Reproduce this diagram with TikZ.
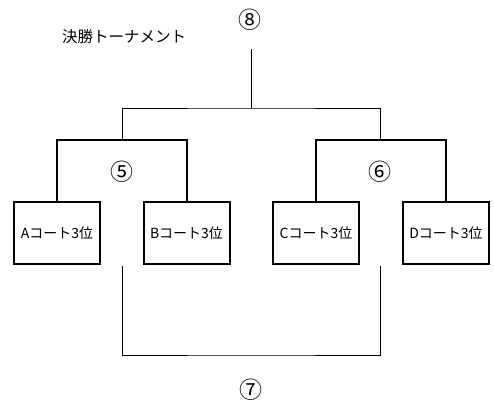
\documentclass[tikz,border=0pt]{standalone}
\usepackage{fontspec}
\setmainfont{Noto Sans CJK JP}
\begin{document}
\begin{tikzpicture}[x=1pt,y=-1pt,
  team/.style={draw=black,line width=2pt,minimum width=86pt,minimum height=62pt,inner sep=0pt,font=\fontsize{14}{15}\selectfont},
  num/.style={inner sep=0pt,font=\fontsize{23}{24}\selectfont},
  thinline/.style={draw=black,line width=1pt},
  thickline/.style={draw=black,line width=2pt}]
\useasboundingbox[fill=white] (0,0) rectangle (494,410);
\node[inner sep=0pt,font=\fontsize{15.5}{16}\selectfont] (title) at (124,37) {決勝トーナメント};
\node[num] (n8) at (250,20) {⑧};
\node[num] (n5) at (122,172) {⑤};
\node[num] (n6) at (380,172) {⑥};
\node[num] (n7) at (251,390) {⑦};
\node[team] (A) at (57,233) {Aコート3位};
\node[team] (B) at (186.5,233) {Bコート3位};
\node[team] (C) at (316,233) {Cコート3位};
\node[team] (D) at (446,233) {Dコート3位};
\coordinate (t8) at (251,49);
\coordinate (j8) at (251,108);
\coordinate (s5) at (122,140);
\coordinate (s6) at (380,140);
\coordinate (b7l) at (122,266);
\coordinate (b7r) at (380,266);
\coordinate (j7) at (251,355);
\draw[thickline] (A.north) |- (s5) -| (B.north);
\draw[thickline] (C.north) |- (s6) -| (D.north);
\draw[thinline] (t8) -- (j8);
\draw[thinline] (s5) |- (j8) -| (s6);
\draw[thinline] (b7l) |- (j7) -| (b7r);
\end{tikzpicture}
\end{document}
